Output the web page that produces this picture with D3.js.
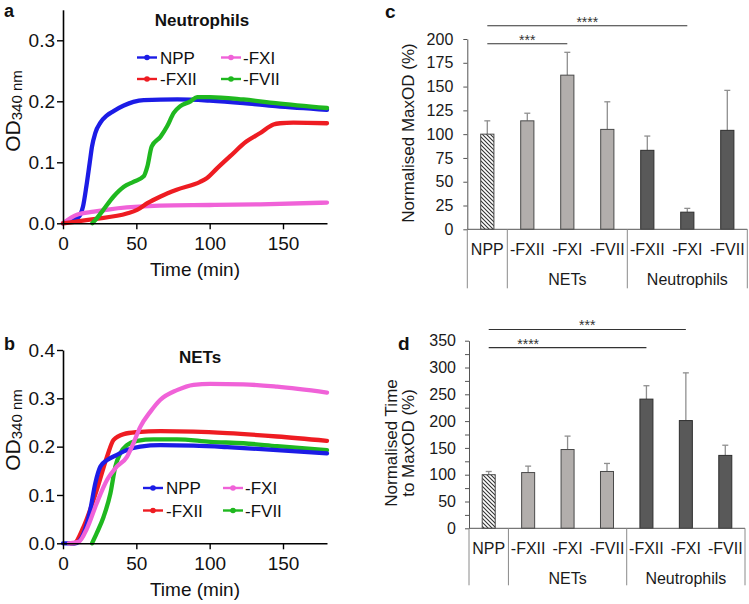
<!DOCTYPE html>
<html><head><meta charset="utf-8">
<script src="https://cdn.jsdelivr.net/npm/d3@7"></script>
<style>body{margin:0;background:#fff} text{font-family:"Liberation Sans",Arial,Helvetica,sans-serif}</style>
</head><body>
<svg id="fig" width="749" height="604" xmlns="http://www.w3.org/2000/svg"></svg>
<script>
// ---------- DATA ----------
const seriesNames = ["NPP", "-FXII", "-FXI", "-FVII"];
const timeTicks = [0, 50, 100, 150];
const odTicksA = [0, 0.1, 0.2, 0.3];
const odTicksB = [0, 0.1, 0.2, 0.3, 0.4];

// Panel a (Neutrophils): [time (min), OD340]
const neutNPP = [[0,0],[5,0.004],[10,0.009],[11.8,0.014],[13.6,0.027],[15.9,0.06],[18.2,0.099],[19.8,0.126],[22,0.148],[25.5,0.165],[30,0.177],[34.5,0.184],[41.5,0.193],[48,0.199],[55,0.202],[78,0.203],[100,0.201],[123,0.197],[145,0.192],[180,0.186]];
const neutFXII = [[0,0],[21,0.007],[43.5,0.016],[50.5,0.022],[57.5,0.033],[66.5,0.044],[77.5,0.055],[93.5,0.068],[98,0.074],[105,0.09],[114,0.11],[125,0.134],[134.5,0.148],[143.5,0.162],[148,0.164],[157,0.165],[180,0.164]];
const neutFXI = [[0,0],[9.5,0.014],[21,0.019],[32,0.023],[43.5,0.026],[66,0.029],[100,0.03],[134.5,0.031],[180,0.034]];
const neutFVII = [[20,0],[23,0.008],[27.5,0.022],[34.5,0.044],[41.5,0.06],[48,0.068],[55,0.077],[57.5,0.093],[60.5,0.126],[66.5,0.142],[71,0.159],[75.5,0.181],[80,0.192],[87,0.2],[91.5,0.207],[100,0.207],[123,0.203],[145,0.197],[180,0.189]];

// Panel b (NETs)
const netsNPP = [[0,0],[8.4,0],[14,0.02],[18.6,0.069],[22,0.124],[25.5,0.159],[30,0.172],[36.8,0.183],[43.6,0.193],[52.7,0.2],[66.4,0.203],[89,0.202],[112,0.199],[146,0.193],[180,0.186]];
const netsFXII = [[5,0],[7.3,0],[14,0.034],[23,0.11],[30,0.179],[34.5,0.214],[41.4,0.226],[50.5,0.23],[66.4,0.232],[89,0.231],[112,0.228],[146,0.221],[180,0.212]];
const netsFXI = [[4,0],[10.7,0.003],[16.4,0.031],[23,0.083],[30,0.131],[36.8,0.159],[43.6,0.179],[48,0.207],[52.7,0.241],[59.5,0.272],[66.4,0.297],[77.7,0.317],[89,0.328],[100.5,0.33],[123,0.329],[146,0.324],[180,0.312]];
const netsFVII = [[19.8,0],[23,0.021],[27.7,0.055],[32.3,0.103],[35.7,0.159],[39,0.186],[43.6,0.203],[50.5,0.212],[61.8,0.215],[77.7,0.215],[100.5,0.21],[123,0.207],[146,0.201],[180,0.193]];

// Bar panels c, d
const barLabels = ["NPP", "-FXII", "-FXI", "-FVII", "-FXII", "-FXI", "-FVII"];
const barGroup = ["NPP", "NETs", "NETs", "NETs", "Neutrophils", "Neutrophils", "Neutrophils"];
const groupNames = ["NETs", "Neutrophils"];
const maxODMean = [100, 114, 162, 105, 83, 18, 104];
const maxODErr  = [14, 8, 24, 29, 15, 4, 42];
const timeMean  = [100, 104, 147, 106, 241, 201, 136];
const timeErr   = [6, 12, 25, 15, 25, 89, 19];
const maxODTicks = [0, 25, 50, 75, 100, 125, 150, 175, 200];
const timeTicksD = [0, 25, 50, 75, 100, 125, 150, 175, 200, 225, 250, 275, 300, 325, 350];
// significance: [from index, to index, label, level (data units)]
const sigC = [[0, 5, "****", 214], [0, 2, "***", 195]];
const sigD = [[0, 5, "***", 371], [0, 4, "****", 337]];

// ---------- STYLE ----------
const colors = {"NPP": "#1c1ce6", "-FXII": "#ee1c22", "-FXI": "#f062d8", "-FVII": "#1fb81f"};
const svg = d3.select("#fig");
const defs = svg.append("defs");
const pat = defs.append("pattern").attr("id", "hatch").attr("patternUnits", "userSpaceOnUse").attr("width", 4).attr("height", 4);
pat.append("rect").attr("width", 4).attr("height", 4).attr("fill", "#fff");
pat.append("path").attr("d", "M-1,-1L5,5M3,-1L5,1M-1,3L1,5").attr("stroke", "#333").attr("stroke-width", 1.1);

// ---------- LINE PANELS ----------
function linePanel(opt) {
  const g = svg.append("g");
  const x = d3.scaleLinear().domain([0, 180]).range([63, 327]);
  const y = d3.scaleLinear().domain([0, opt.ymax]).range([opt.y0, opt.ytop]);
  const line = d3.line().x(d => x(d[0])).y(d => y(d[1])).curve(d3.curveMonotoneX);
  opt.order.forEach(k => {
    g.append("path").datum(opt.data[k]).attr("d", line)
      .attr("fill", "none").attr("stroke", colors[k]).attr("stroke-width", 4.3)
      .attr("stroke-linecap", "round").attr("stroke-linejoin", "round");
  });
  const xa = g.append("g").attr("transform", `translate(0,${y(0)})`)
    .call(d3.axisBottom(x).tickValues(timeTicks).tickSize(6).tickPadding(7).tickSizeOuter(0));
  const ya = g.append("g").attr("transform", `translate(${x(0)},0)`)
    .call(d3.axisLeft(y).tickValues(opt.ticks).tickFormat(d3.format(".1f")).tickSize(6).tickPadding(2).tickSizeOuter(0));
  [xa, ya].forEach(a => {
    a.select(".domain").attr("stroke", "#000").attr("stroke-width", 1.6);
    a.selectAll(".tick line").attr("stroke", "#000").attr("stroke-width", 1.4);
    a.selectAll("text").attr("font-size", 19).attr("fill", "#111").attr("font-family", '"Liberation Sans",Arial,sans-serif');
  });
  g.append("text").attr("x", 195).attr("y", opt.y0 + 53).attr("text-anchor", "middle")
    .attr("font-size", 19).attr("fill", "#111").text("Time (min)");
  const yl = g.append("text").attr("transform", `translate(20,${opt.ylabY}) rotate(-90)`)
    .attr("text-anchor", "middle").attr("fill", "#111");
  yl.append("tspan").attr("font-size", 21).text("OD");
  yl.append("tspan").attr("font-size", 15).attr("dy", 2).text("340 nm");
  g.append("text").attr("x", opt.titleX).attr("y", opt.titleY).attr("text-anchor", "middle")
    .attr("font-size", 17).attr("font-weight", "bold").attr("fill", "#111").text(opt.title);
  g.append("text").attr("x", 4).attr("y", opt.letterY).attr("font-size", 18).attr("font-weight", "bold").attr("fill", "#111").text(opt.letter);
  // legend
  const cols = [opt.legX1, opt.legX2];
  seriesNames.forEach(k => {
    const c = (k === "NPP" || k === "-FXII") ? 0 : 1;
    const r = (k === "NPP" || k === "-FXI") ? 0 : 1;
    const lx = cols[c], ly = opt.legY + r * opt.legDy;
    g.append("line").attr("x1", lx).attr("x2", lx + 20).attr("y1", ly).attr("y2", ly)
      .attr("stroke", colors[k]).attr("stroke-width", 2.4);
    g.append("circle").attr("cx", lx + 10).attr("cy", ly).attr("r", 2.8).attr("fill", colors[k]);
    g.append("text").attr("x", lx + (c === 0 ? 23 : 22)).attr("y", ly + 6).attr("font-size", 17).attr("fill", "#111").text(k);
  });
}

linePanel({
  data: {"NPP": neutNPP, "-FXII": neutFXII, "-FXI": neutFXI, "-FVII": neutFVII},
  order: ["NPP", "-FXI", "-FXII", "-FVII"],
  ymax: 0.35, y0: 223.3, ytop: 9.8, ticks: odTicksA, ylabY: 111,
  title: "Neutrophils", titleX: 202, titleY: 26, letter: "a", letterY: 17,
  legX1: 137, legX2: 221, legY: 57.5, legDy: 21.5
});
linePanel({
  data: {"NPP": netsNPP, "-FXII": netsFXII, "-FXI": netsFXI, "-FVII": netsFVII},
  order: ["-FXII", "-FVII", "NPP", "-FXI"],
  ymax: 0.4, y0: 543.3, ytop: 350, ticks: odTicksB, ylabY: 430,
  title: "NETs", titleX: 200, titleY: 363, letter: "b", letterY: 350,
  legX1: 143, legX2: 223, legY: 488, legDy: 22.5
});

// ---------- BAR PANELS ----------
function barPanel(opt) {
  const g = svg.append("g");
  const x = d3.scaleBand().domain(d3.range(barLabels.length)).range(opt.xr);
  const y = d3.scaleLinear().domain([0, opt.ymax]).range([opt.y0, opt.ytop]);
  const bw = x.bandwidth() * 0.33;
  const fill = i => barGroup[i] === "NPP" ? "url(#hatch)" : (barGroup[i] === "NETs" ? "#b2aeac" : "#595959");
  const stroke = i => barGroup[i] === "Neutrophils" ? "#2e2e2e" : "#4a4a4a";
  // error bars
  opt.mean.forEach((m, i) => {
    const cx = x(i) + x.bandwidth() / 2;
    g.append("line").attr("x1", cx).attr("x2", cx).attr("y1", y(m)).attr("y2", y(m + opt.err[i])).attr("stroke", "#8f8f8f").attr("stroke-width", 1.3);
    g.append("line").attr("x1", cx - 3).attr("x2", cx + 3).attr("y1", y(m + opt.err[i])).attr("y2", y(m + opt.err[i])).attr("stroke", "#8f8f8f").attr("stroke-width", 1.3);
  });
  g.selectAll("rect.bar").data(opt.mean).join("rect").attr("class", "bar")
    .attr("x", (d, i) => x(i) + x.bandwidth() / 2 - bw / 2).attr("width", bw)
    .attr("y", d => y(d)).attr("height", d => y(0) - y(d))
    .attr("fill", (d, i) => fill(i)).attr("stroke", (d, i) => stroke(i)).attr("stroke-width", 1);
  // y axis
  const ya = g.append("g").attr("transform", `translate(${opt.xr[0]},0)`)
    .call(d3.axisLeft(y).tickValues(opt.ticks).tickFormat(d => d % opt.labelEvery === 0 ? d : "").tickSize(4).tickPadding(opt.pad).tickSizeOuter(0));
  ya.select(".domain").attr("stroke", "#555").attr("stroke-width", 1);
  ya.selectAll(".tick line").attr("stroke", "#555");
  ya.selectAll("text").attr("font-size", 16).attr("fill", "#1a1a1a").attr("font-family", '"Liberation Sans",Arial,sans-serif');
  // baseline
  g.append("line").attr("x1", opt.xr[0]).attr("x2", opt.xr[1]).attr("y1", y(0)).attr("y2", y(0)).attr("stroke", "#555").attr("stroke-width", 1);
  // separators
  const seps = [x(0), x(1), x(4), opt.xr[1]];
  seps.forEach(s => g.append("line").attr("x1", s).attr("x2", s).attr("y1", y(0)).attr("y2", y(0) + opt.sepLen).attr("stroke", "#8a8a8a").attr("stroke-width", 1));
  // category labels
  barLabels.forEach((l, i) => g.append("text").attr("x", x(i) + x.bandwidth() / 2).attr("y", y(0) + 25.5)
    .attr("text-anchor", "middle").attr("font-size", 16).attr("fill", "#1a1a1a").text(l));
  groupNames.forEach(gn => {
    const idx = d3.range(barLabels.length).filter(i => barGroup[i] === gn);
    const cx = (x(idx[0]) + x(idx[idx.length - 1]) + x.bandwidth()) / 2;
    g.append("text").attr("x", cx).attr("y", y(0) + 55.5).attr("text-anchor", "middle").attr("font-size", 16).attr("fill", "#1a1a1a").text(gn);
  });
  // significance
  opt.sig.forEach(([a, b, lab, lev], k) => {
    const x1 = x(a) + x.bandwidth() / 2, x2 = x(b) + x.bandwidth() / 2;
    g.append("line").attr("x1", x1).attr("x2", x2).attr("y1", y(lev)).attr("y2", y(lev)).attr("stroke", "#333").attr("stroke-width", 1.1);
    const tx = opt.sigAt[k] === "mid" ? (x1 + x2) / 2 : x(opt.sigAt[k]) + x.bandwidth() / 2;
    g.append("text").attr("x", tx).attr("y", y(lev) + 1).attr("text-anchor", "middle").attr("font-size", 14).attr("fill", "#333").text(lab);
  });
  // y label
  const yl = g.append("text").attr("transform", `translate(${opt.ylabX},${opt.ylabY}) rotate(-90)`).attr("text-anchor", "middle")
    .attr("font-size", 17).attr("fill", "#1a1a1a");
  opt.ylab.forEach((t, i) => yl.append("tspan").attr("x", 0).attr("dy", i === 0 ? 0 : 17).text(t));
  g.append("text").attr("x", opt.letterX).attr("y", opt.letterY).attr("font-size", 19).attr("font-weight", "bold").attr("fill", "#111").text(opt.letter);
}

barPanel({
  mean: maxODMean, err: maxODErr, ymax: 200, y0: 229.3, ytop: 39, xr: [467.3, 747.3],
  ticks: maxODTicks, labelEvery: 25, pad: 10, sepLen: 59,
  sig: sigC, sigAt: ["mid", "mid"],
  ylab: ["Normalised MaxOD (%)"], ylabX: 414, ylabY: 133,
  letter: "c", letterX: 385, letterY: 18
});
barPanel({
  mean: timeMean, err: timeErr, ymax: 350, y0: 528.3, ytop: 340.7, xr: [469, 745],
  ticks: timeTicksD, labelEvery: 50, pad: 9, sepLen: 57,
  sig: sigD, sigAt: ["mid", 1],
  ylab: ["Normalised Time", "to MaxOD (%)"], ylabX: 397, ylabY: 443,
  letter: "d", letterX: 398, letterY: 350
});
</script>
</body></html>
